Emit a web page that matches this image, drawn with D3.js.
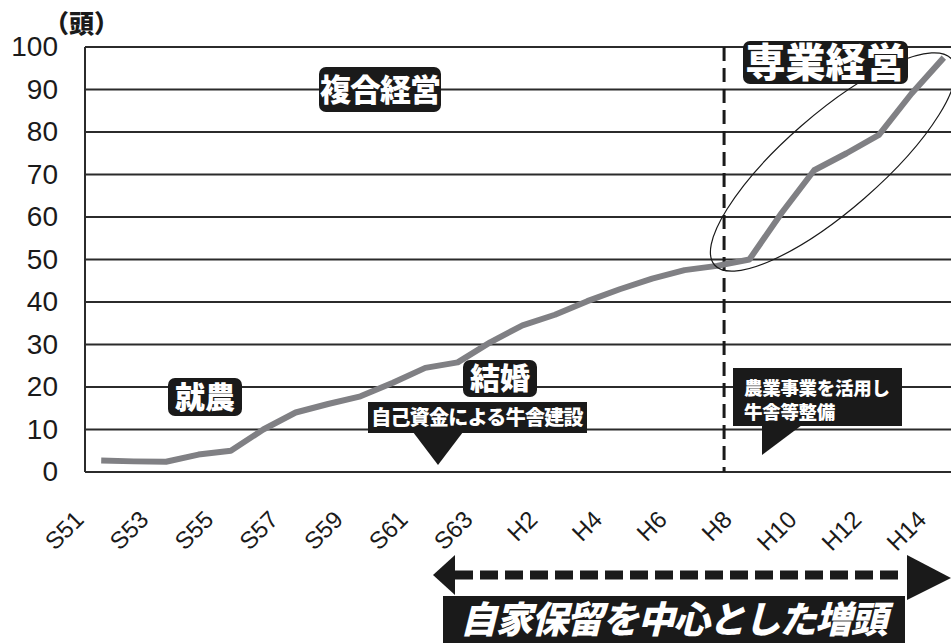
<!DOCTYPE html>
<html>
<head>
<meta charset="utf-8">
<script src="https://cdn.jsdelivr.net/npm/d3@7"></script>
<style>
  html, body { margin: 0; padding: 0; background: #fff; }
  svg { display: block; }
  .num { font-family: "Liberation Sans", Arial, sans-serif; }
  .jp { font-family: "Noto Sans CJK JP", sans-serif; font-weight: 900; }
</style>
</head>
<body>
<div id="chart"></div>
<script>
// 年次（昭和・平成）
const years = ['S51', 'S52', 'S53', 'S54', 'S55', 'S56', 'S57', 'S58', 'S59', 'S60', 'S61', 'S62', 'S63',
  'H1', 'H2', 'H3', 'H4', 'H5', 'H6', 'H7', 'H8', 'H9', 'H10', 'H11', 'H12', 'H13', 'H14'];
// 飼養頭数（頭）
const heads = [2.7, 2.5, 2.4, 4.1, 5.0, 10.0, 14.0, 16.0, 17.8, 21.0, 24.5, 25.8, 30.5,
  34.5, 37.0, 40.2, 43.0, 45.5, 47.5, 48.5, 50.0, 61.0, 71.0, 75.0, 79.3, 89.0, 97.5];
const yTicks = [0, 10, 20, 30, 40, 50, 60, 70, 80, 90, 100];
const xLabels = years.filter((d, i) => i % 2 === 0);

const width = 951;
const height = 643;
const plot = { left: 85, right: 960, top: 47, bottom: 472 };

const svg = d3.select('#chart').append('svg').attr('width', width).attr('height', height);

const x = d3.scalePoint().domain(years).range([plot.left, plot.right]).padding(0.5);
const y = d3.scaleLinear().domain([0, 100]).range([plot.bottom, plot.top]);
const step = x.step();

// グリッド線
svg.append('g')
  .selectAll('line').data(yTicks)
  .enter()
  .append('line')
  .attr('x1', plot.left).attr('x2', plot.right)
  .attr('y1', d => y(d)).attr('y2', d => y(d))
  .attr('stroke', '#2b2b2b')
  .attr('stroke-width', 2);

// 縦軸
svg.append('line')
  .attr('x1', plot.left).attr('x2', plot.left)
  .attr('y1', plot.top).attr('y2', plot.bottom)
  .attr('stroke', '#2b2b2b').attr('stroke-width', 2);

// 縦軸ラベル
const yAxis = svg.append('g')
  .attr('transform', `translate(${plot.left},0)`)
  .call(d3.axisLeft(y).tickValues(yTicks).tickSize(0).tickPadding(27));
yAxis.select('.domain').remove();
yAxis.selectAll('text')
  .attr('class', 'num')
  .attr('font-size', 28)
  .attr('fill', '#1a1a1a');

svg.append('text')
  .attr('class', 'jp')
  .attr('x', 44).attr('y', 33)
  .attr('font-size', 25)
  .attr('fill', '#1a1a1a')
  .text('（頭）');

// 横軸ラベル（-45度）
svg.append('g')
  .selectAll('g').data(xLabels)
  .enter()
  .append('g')
  .attr('transform', d => `translate(${x(d) - 16},521) rotate(-45)`)
  .append('text')
  .attr('class', 'num')
  .attr('font-size', 24)
  .attr('fill', '#1a1a1a')
  .attr('text-anchor', 'end')
  .text(d => d);

// 区切り（H8 前）
const divX = x('H7') + step * 0.22;
svg.append('line')
  .attr('x1', divX).attr('x2', divX)
  .attr('y1', plot.top).attr('y2', plot.bottom)
  .attr('stroke', '#1a1a1a')
  .attr('stroke-width', 3)
  .attr('stroke-dasharray', '14,7');

// 折れ線
const line = d3.line()
  .x((d, i) => x(years[i]))
  .y(d => y(d));
svg.append('path')
  .datum(heads)
  .attr('d', line)
  .attr('fill', 'none')
  .attr('stroke', '#808084')
  .attr('stroke-width', 6)
  .attr('stroke-linejoin', 'round');

// 楕円
svg.append('ellipse')
  .attr('cx', 0).attr('cy', 0)
  .attr('rx', 157).attr('ry', 48)
  .attr('transform', 'translate(833,162) rotate(-41)')
  .attr('fill', 'none')
  .attr('stroke', '#1a1a1a')
  .attr('stroke-width', 1.2);

// ラベル付きの黒い箱
function labelBox(txt, bx, by, bw, bh, size, spacing) {
  const g = svg.append('g');
  g.append('rect')
    .attr('x', bx).attr('y', by)
    .attr('width', bw).attr('height', bh)
    .attr('rx', 7)
    .attr('fill', '#1a1a1a');
  g.append('text')
    .attr('class', 'jp')
    .attr('x', bx + bw / 2).attr('y', by + bh / 2)
    .attr('dy', '0.36em')
    .attr('text-anchor', 'middle')
    .attr('font-size', size)
    .attr('letter-spacing', spacing)
    .attr('fill', '#fff')
    .text(txt);
}
labelBox('複合経営', 319, 67, 122, 45, 31, -1);
labelBox('専業経営', 743, 41, 165, 43, 40, 0);
labelBox('就農', 168, 378, 74, 38, 30, 0);
labelBox('結婚', 463, 360, 74, 37, 30, 0);

// 吹き出し：自己資金による牛舎建設
const c1 = svg.append('g');
c1.append('rect')
  .attr('x', 368).attr('y', 402).attr('width', 219).attr('height', 31)
  .attr('fill', '#1a1a1a');
c1.append('path')
  .attr('d', 'M413,432 L463,432 L438,465 Z')
  .attr('fill', '#1a1a1a');
c1.append('text')
  .attr('class', 'jp')
  .attr('x', 477).attr('y', 418)
  .attr('dy', '0.36em')
  .attr('text-anchor', 'middle')
  .attr('font-size', 20)
  .attr('letter-spacing', -0.7)
  .attr('fill', '#fff')
  .text('自己資金による牛舎建設');

// 吹き出し：農業事業を活用し牛舎等整備
const c2 = svg.append('g');
c2.append('rect')
  .attr('x', 733).attr('y', 368).attr('width', 169).attr('height', 58)
  .attr('fill', '#1a1a1a');
c2.append('path')
  .attr('d', 'M762,425 L802,425 L762,455 Z')
  .attr('fill', '#1a1a1a');
c2.append('text')
  .attr('class', 'jp')
  .attr('x', 744).attr('y', 395)
  .attr('font-size', 18.5)
  .attr('letter-spacing', -0.3)
  .attr('fill', '#fff')
  .text('農業事業を活用し');
c2.append('text')
  .attr('class', 'jp')
  .attr('x', 744).attr('y', 419)
  .attr('font-size', 18.5)
  .attr('letter-spacing', -0.3)
  .attr('fill', '#fff')
  .text('牛舎等整備');

// 期間矢印
svg.append('line')
  .attr('x1', 455).attr('x2', 905)
  .attr('y1', 575).attr('y2', 575)
  .attr('stroke', '#1a1a1a')
  .attr('stroke-width', 9)
  .attr('stroke-dasharray', '18,7');
svg.append('path')
  .attr('d', 'M433,575 L455,555 L455,595 Z')
  .attr('fill', '#1a1a1a');
svg.append('path')
  .attr('d', 'M907,555 L951,578 L907,600 Z')
  .attr('fill', '#1a1a1a');

// 帯
svg.append('rect')
  .attr('x', 443).attr('y', 596).attr('width', 462).attr('height', 47)
  .attr('fill', '#1a1a1a');
svg.append('text')
  .attr('class', 'jp')
  .attr('x', 673).attr('y', 633)
  .attr('text-anchor', 'middle')
  .attr('font-size', 37)
  .attr('font-style', 'italic')
  .attr('letter-spacing', -1.5)
  .attr('fill', '#fff')
  .text('自家保留を中心とした増頭');
</script>
</body>
</html>
